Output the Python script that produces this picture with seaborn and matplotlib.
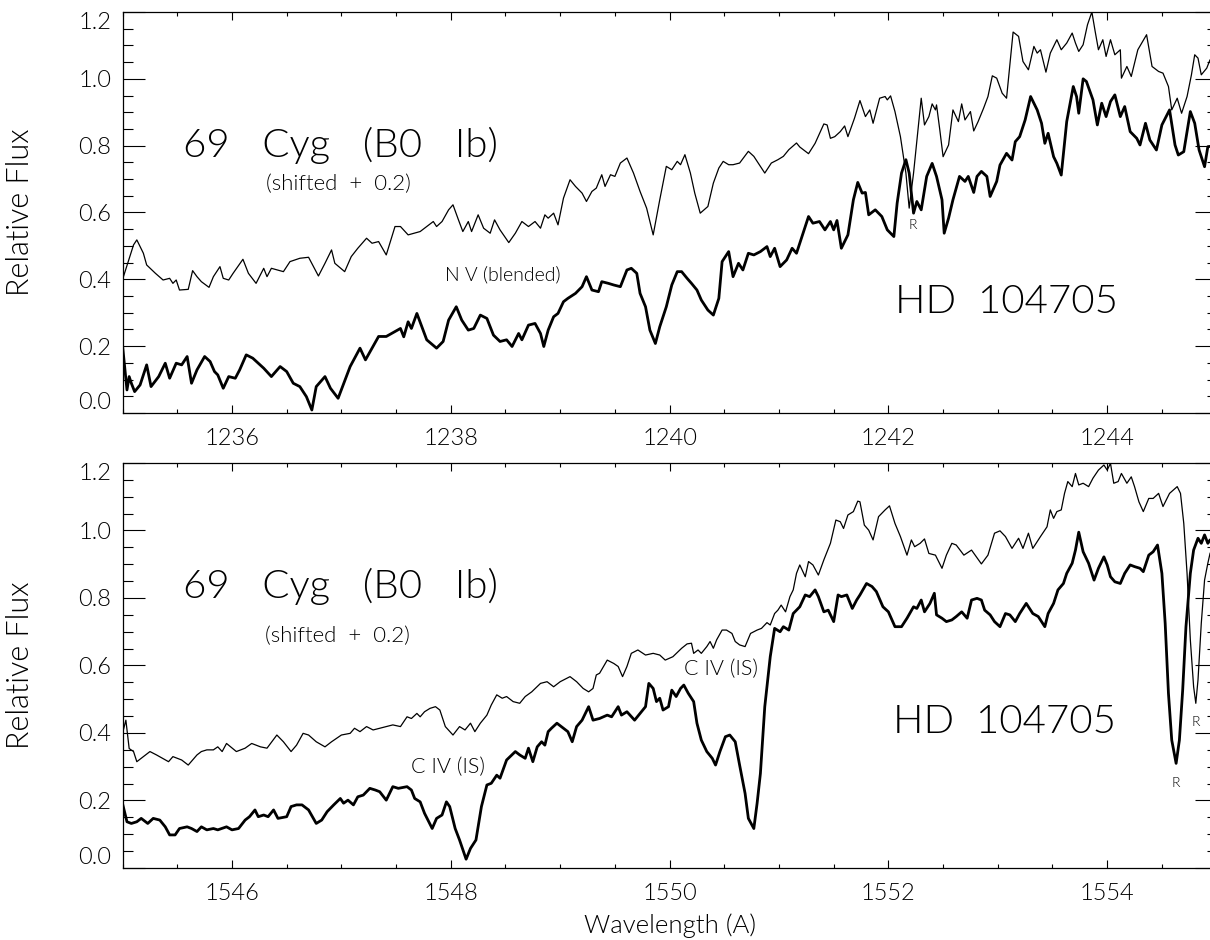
import matplotlib
matplotlib.use("Agg")
import matplotlib.pyplot as plt
from matplotlib.ticker import MultipleLocator
import seaborn as sns

# ---- N V region (upper panel) ----
nv_wave_cyg = [1235.00, 1235.10, 1235.13, 1235.19, 1235.22, 1235.30, 1235.37, 1235.43, 1235.46, 1235.49,
               1235.52, 1235.60, 1235.64, 1235.68, 1235.72, 1235.79, 1235.83, 1235.89, 1235.92, 1235.97,
               1236.01, 1236.10, 1236.15, 1236.22, 1236.29, 1236.32, 1236.36, 1236.47, 1236.53, 1236.62,
               1236.70, 1236.79, 1236.85, 1236.91, 1236.94, 1237.03, 1237.09, 1237.15, 1237.23, 1237.28,
               1237.34, 1237.41, 1237.49, 1237.54, 1237.61, 1237.72, 1237.84, 1237.87, 1237.92, 1237.98,
               1238.02, 1238.07, 1238.11, 1238.16, 1238.19, 1238.25, 1238.30, 1238.36, 1238.40, 1238.45,
               1238.53, 1238.59, 1238.65, 1238.71, 1238.77, 1238.82, 1238.86, 1238.89, 1238.94, 1238.98,
               1239.03, 1239.09, 1239.14, 1239.20, 1239.24, 1239.29, 1239.33, 1239.38, 1239.41, 1239.46,
               1239.50, 1239.55, 1239.61, 1239.67, 1239.73, 1239.79, 1239.85, 1239.91, 1239.97, 1240.02,
               1240.07, 1240.10, 1240.14, 1240.19, 1240.23, 1240.28, 1240.35, 1240.40, 1240.45, 1240.49,
               1240.54, 1240.58, 1240.64, 1240.72, 1240.77, 1240.81, 1240.87, 1240.93, 1240.99, 1241.04,
               1241.09, 1241.16, 1241.19, 1241.27, 1241.33, 1241.41, 1241.44, 1241.47, 1241.51, 1241.56,
               1241.60, 1241.63, 1241.69, 1241.74, 1241.79, 1241.83, 1241.86, 1241.92, 1241.97, 1241.99,
               1242.02, 1242.06, 1242.11, 1242.16, 1242.19, 1242.23, 1242.30, 1242.33, 1242.37, 1242.40,
               1242.43, 1242.44, 1242.47, 1242.50, 1242.55, 1242.59, 1242.64, 1242.67, 1242.70, 1242.75,
               1242.78, 1242.82, 1242.87, 1242.91, 1242.95, 1242.99, 1243.04, 1243.08, 1243.14, 1243.19,
               1243.23, 1243.28, 1243.33, 1243.36, 1243.39, 1243.44, 1243.48, 1243.54, 1243.58, 1243.63,
               1243.68, 1243.71, 1243.74, 1243.78, 1243.82, 1243.86, 1243.89, 1243.92, 1243.96, 1243.99,
               1244.03, 1244.07, 1244.12, 1244.13, 1244.18, 1244.22, 1244.28, 1244.36, 1244.41, 1244.47,
               1244.51, 1244.56, 1244.59, 1244.64, 1244.68, 1244.73, 1244.77, 1244.80, 1244.83, 1244.86,
               1244.91, 1244.94, 1245.00]
nv_flux_cyg = [0.400, 0.503, 0.518, 0.478, 0.443, 0.418, 0.398, 0.403, 0.388, 0.398,
               0.368, 0.370, 0.426, 0.408, 0.393, 0.376, 0.408, 0.438, 0.403, 0.398,
               0.418, 0.460, 0.418, 0.388, 0.433, 0.408, 0.433, 0.423, 0.453, 0.463,
               0.466, 0.410, 0.448, 0.488, 0.448, 0.423, 0.468, 0.493, 0.523, 0.508,
               0.513, 0.473, 0.558, 0.558, 0.533, 0.543, 0.573, 0.558, 0.573, 0.608,
               0.623, 0.578, 0.543, 0.573, 0.543, 0.593, 0.553, 0.538, 0.578, 0.548,
               0.510, 0.538, 0.573, 0.558, 0.573, 0.553, 0.593, 0.583, 0.598, 0.563,
               0.643, 0.698, 0.678, 0.658, 0.633, 0.663, 0.673, 0.713, 0.678, 0.713,
               0.708, 0.748, 0.763, 0.718, 0.663, 0.613, 0.533, 0.638, 0.738, 0.728,
               0.753, 0.743, 0.773, 0.718, 0.658, 0.598, 0.618, 0.688, 0.733, 0.753,
               0.743, 0.743, 0.748, 0.783, 0.768, 0.748, 0.718, 0.748, 0.758, 0.768,
               0.788, 0.808, 0.796, 0.776, 0.807, 0.865, 0.862, 0.822, 0.827, 0.842,
               0.859, 0.827, 0.882, 0.935, 0.887, 0.907, 0.867, 0.942, 0.947, 0.937,
               0.949, 0.902, 0.827, 0.718, 0.613, 0.718, 0.942, 0.862, 0.887, 0.925,
               0.907, 0.922, 0.847, 0.767, 0.802, 0.907, 0.872, 0.925, 0.877, 0.902,
               0.844, 0.872, 0.912, 0.947, 1.009, 1.002, 0.957, 0.942, 1.140, 1.127,
               1.052, 1.027, 1.097, 1.077, 1.087, 1.020, 1.077, 1.117, 1.087, 1.107,
               1.137, 1.107, 1.082, 1.102, 1.162, 1.200, 1.142, 1.087, 1.117, 1.067,
               1.117, 1.072, 1.087, 1.002, 1.037, 1.007, 1.087, 1.132, 1.037, 1.022,
               1.017, 0.977, 0.907, 0.942, 0.897, 0.947, 1.012, 1.072, 1.062, 1.012,
               1.032, 1.057, 1.060]

nv_wave_hd = [1235.00, 1235.04, 1235.06, 1235.08, 1235.11, 1235.16, 1235.22, 1235.26, 1235.33, 1235.39,
              1235.43, 1235.49, 1235.54, 1235.59, 1235.63, 1235.68, 1235.75, 1235.80, 1235.84, 1235.87,
              1235.92, 1235.97, 1236.03, 1236.07, 1236.13, 1236.19, 1236.29, 1236.36, 1236.44, 1236.50,
              1236.56, 1236.62, 1236.68, 1236.73, 1236.77, 1236.85, 1236.90, 1236.97, 1237.08, 1237.17,
              1237.22, 1237.34, 1237.41, 1237.49, 1237.54, 1237.57, 1237.61, 1237.64, 1237.69, 1237.73,
              1237.78, 1237.87, 1237.93, 1237.98, 1238.05, 1238.10, 1238.16, 1238.21, 1238.27, 1238.33,
              1238.39, 1238.45, 1238.51, 1238.56, 1238.62, 1238.65, 1238.71, 1238.77, 1238.82, 1238.85,
              1238.89, 1238.94, 1238.98, 1239.03, 1239.07, 1239.14, 1239.20, 1239.24, 1239.29, 1239.35,
              1239.38, 1239.44, 1239.49, 1239.55, 1239.61, 1239.65, 1239.70, 1239.73, 1239.78, 1239.82,
              1239.87, 1239.91, 1239.97, 1240.02, 1240.07, 1240.11, 1240.16, 1240.20, 1240.25, 1240.29,
              1240.35, 1240.40, 1240.45, 1240.48, 1240.54, 1240.58, 1240.63, 1240.67, 1240.72, 1240.77,
              1240.83, 1240.89, 1240.92, 1240.96, 1241.01, 1241.07, 1241.12, 1241.16, 1241.19, 1241.27,
              1241.31, 1241.37, 1241.42, 1241.47, 1241.50, 1241.53, 1241.57, 1241.63, 1241.68, 1241.72,
              1241.76, 1241.79, 1241.82, 1241.88, 1241.94, 1241.99, 1242.05, 1242.08, 1242.12, 1242.16,
              1242.19, 1242.23, 1242.26, 1242.30, 1242.35, 1242.40, 1242.44, 1242.49, 1242.51, 1242.55,
              1242.59, 1242.65, 1242.70, 1242.73, 1242.78, 1242.81, 1242.85, 1242.90, 1242.93, 1242.99,
              1243.02, 1243.08, 1243.13, 1243.16, 1243.20, 1243.25, 1243.30, 1243.36, 1243.40, 1243.43,
              1243.46, 1243.51, 1243.54, 1243.58, 1243.63, 1243.69, 1243.72, 1243.74, 1243.78, 1243.81,
              1243.87, 1243.91, 1243.95, 1243.99, 1244.03, 1244.07, 1244.12, 1244.16, 1244.21, 1244.27,
              1244.30, 1244.35, 1244.39, 1244.45, 1244.50, 1244.57, 1244.62, 1244.65, 1244.70, 1244.76,
              1244.80, 1244.84, 1244.89, 1244.92, 1245.00]
nv_flux_hd = [0.200, 0.069, 0.109, 0.089, 0.064, 0.084, 0.144, 0.079, 0.109, 0.149,
              0.104, 0.149, 0.144, 0.169, 0.089, 0.129, 0.169, 0.154, 0.124, 0.114,
              0.074, 0.109, 0.104, 0.129, 0.174, 0.164, 0.134, 0.109, 0.139, 0.124,
              0.089, 0.079, 0.049, 0.009, 0.079, 0.109, 0.074, 0.044, 0.139, 0.194,
              0.159, 0.229, 0.229, 0.244, 0.253, 0.228, 0.273, 0.253, 0.298, 0.263,
              0.219, 0.194, 0.214, 0.278, 0.318, 0.278, 0.248, 0.253, 0.293, 0.283,
              0.233, 0.214, 0.219, 0.199, 0.238, 0.219, 0.263, 0.268, 0.238, 0.199,
              0.248, 0.288, 0.298, 0.333, 0.343, 0.358, 0.378, 0.408, 0.368, 0.363,
              0.393, 0.388, 0.383, 0.378, 0.428, 0.433, 0.418, 0.358, 0.318, 0.248,
              0.208, 0.258, 0.318, 0.383, 0.423, 0.423, 0.403, 0.388, 0.368, 0.338,
              0.308, 0.293, 0.343, 0.453, 0.483, 0.408, 0.448, 0.428, 0.478, 0.473,
              0.483, 0.498, 0.468, 0.493, 0.438, 0.458, 0.493, 0.478, 0.508, 0.588,
              0.568, 0.573, 0.548, 0.573, 0.548, 0.576, 0.493, 0.533, 0.638, 0.690,
              0.658, 0.660, 0.593, 0.608, 0.588, 0.548, 0.528, 0.628, 0.718, 0.758,
              0.718, 0.598, 0.633, 0.608, 0.708, 0.747, 0.708, 0.638, 0.538, 0.583,
              0.638, 0.708, 0.693, 0.708, 0.660, 0.708, 0.723, 0.708, 0.648, 0.693,
              0.742, 0.777, 0.757, 0.812, 0.827, 0.877, 0.947, 0.907, 0.867, 0.807,
              0.837, 0.767, 0.747, 0.712, 0.872, 0.977, 0.947, 0.897, 1.000, 0.992,
              0.937, 0.862, 0.927, 0.887, 0.932, 0.952, 0.887, 0.917, 0.842, 0.822,
              0.802, 0.867, 0.817, 0.787, 0.862, 0.907, 0.802, 0.772, 0.782, 0.902,
              0.867, 0.787, 0.737, 0.797, 0.800]

# ---- C IV region (lower panel) ----
civ_wave_cyg = [1545.00, 1545.03, 1545.06, 1545.10, 1545.13, 1545.19, 1545.25, 1545.31, 1545.42, 1545.46,
                1545.54, 1545.60, 1545.68, 1545.72, 1545.77, 1545.83, 1545.87, 1545.91, 1545.95, 1546.04,
                1546.12, 1546.18, 1546.26, 1546.32, 1546.41, 1546.47, 1546.54, 1546.59, 1546.65, 1546.70,
                1546.77, 1546.85, 1546.91, 1547.00, 1547.08, 1547.12, 1547.17, 1547.23, 1547.29, 1547.35,
                1547.41, 1547.47, 1547.54, 1547.60, 1547.64, 1547.69, 1547.72, 1547.76, 1547.81, 1547.86,
                1547.90, 1547.95, 1548.02, 1548.08, 1548.13, 1548.18, 1548.22, 1548.27, 1548.33, 1548.37,
                1548.42, 1548.47, 1548.51, 1548.57, 1548.63, 1548.68, 1548.74, 1548.82, 1548.88, 1548.94,
                1549.00, 1549.09, 1549.15, 1549.21, 1549.26, 1549.30, 1549.33, 1549.36, 1549.43, 1549.49,
                1549.53, 1549.57, 1549.61, 1549.65, 1549.71, 1549.78, 1549.85, 1549.91, 1549.96, 1550.03,
                1550.11, 1550.16, 1550.20, 1550.22, 1550.26, 1550.29, 1550.34, 1550.37, 1550.40, 1550.43,
                1550.48, 1550.52, 1550.57, 1550.60, 1550.64, 1550.69, 1550.74, 1550.80, 1550.84, 1550.89,
                1550.92, 1550.96, 1550.99, 1551.02, 1551.06, 1551.10, 1551.13, 1551.16, 1551.19, 1551.24,
                1551.27, 1551.31, 1551.36, 1551.41, 1551.47, 1551.52, 1551.56, 1551.59, 1551.63, 1551.68,
                1551.72, 1551.74, 1551.78, 1551.82, 1551.86, 1551.91, 1551.97, 1552.01, 1552.06, 1552.11,
                1552.17, 1552.21, 1552.24, 1552.29, 1552.33, 1552.37, 1552.43, 1552.49, 1552.53, 1552.58,
                1552.62, 1552.69, 1552.76, 1552.85, 1552.91, 1552.97, 1553.02, 1553.07, 1553.13, 1553.19,
                1553.23, 1553.28, 1553.32, 1553.39, 1553.45, 1553.48, 1553.51, 1553.54, 1553.58, 1553.61,
                1553.64, 1553.68, 1553.71, 1553.74, 1553.78, 1553.83, 1553.87, 1553.92, 1553.97, 1554.00,
                1554.03, 1554.06, 1554.10, 1554.13, 1554.18, 1554.22, 1554.25, 1554.29, 1554.33, 1554.38,
                1554.42, 1554.47, 1554.51, 1554.57, 1554.64, 1554.67, 1554.70, 1554.73, 1554.76, 1554.79,
                1554.81, 1554.83, 1554.86, 1554.89, 1554.92, 1554.94, 1555.00]
civ_flux_cyg = [0.400, 0.438, 0.354, 0.345, 0.315, 0.330, 0.345, 0.335, 0.315, 0.330,
                0.320, 0.305, 0.335, 0.345, 0.350, 0.350, 0.359, 0.345, 0.369, 0.345,
                0.355, 0.369, 0.359, 0.355, 0.394, 0.374, 0.345, 0.364, 0.399, 0.394,
                0.374, 0.359, 0.374, 0.394, 0.399, 0.414, 0.404, 0.419, 0.409, 0.414,
                0.419, 0.424, 0.419, 0.448, 0.443, 0.458, 0.448, 0.463, 0.473, 0.478,
                0.468, 0.419, 0.394, 0.419, 0.409, 0.429, 0.404, 0.429, 0.453, 0.483,
                0.513, 0.503, 0.508, 0.493, 0.488, 0.508, 0.522, 0.547, 0.552, 0.537,
                0.552, 0.567, 0.552, 0.532, 0.522, 0.532, 0.572, 0.577, 0.616, 0.606,
                0.597, 0.567, 0.597, 0.636, 0.646, 0.631, 0.636, 0.631, 0.616, 0.626,
                0.651, 0.664, 0.666, 0.636, 0.646, 0.636, 0.656, 0.671, 0.651, 0.676,
                0.705, 0.705, 0.695, 0.671, 0.661, 0.656, 0.695, 0.705, 0.710, 0.727,
                0.720, 0.754, 0.764, 0.779, 0.759, 0.804, 0.824, 0.873, 0.898, 0.863,
                0.908, 0.898, 0.868, 0.913, 0.962, 1.031, 1.026, 1.006, 1.046, 1.056,
                1.087, 1.085, 1.016, 1.001, 0.972, 1.041, 1.061, 1.073, 1.021, 0.982,
                0.927, 0.972, 0.952, 0.962, 0.975, 0.932, 0.927, 0.888, 0.927, 0.962,
                0.957, 0.927, 0.942, 0.901, 0.927, 0.992, 0.999, 0.982, 0.947, 0.977,
                0.947, 0.992, 0.947, 0.982, 1.011, 1.061, 1.036, 1.056, 1.061, 1.110,
                1.145, 1.130, 1.169, 1.135, 1.140, 1.130, 1.155, 1.179, 1.194, 1.179,
                1.199, 1.140, 1.145, 1.169, 1.140, 1.159, 1.130, 1.085, 1.056, 1.095,
                1.095, 1.110, 1.071, 1.110, 1.130, 1.110, 1.021, 0.873, 0.676, 0.537,
                0.488, 0.557, 0.725, 0.853, 0.903, 0.932, 0.970]

civ_wave_hd = [1545.00, 1545.04, 1545.08, 1545.13, 1545.17, 1545.23, 1545.28, 1545.34, 1545.39, 1545.43,
               1545.48, 1545.52, 1545.59, 1545.63, 1545.68, 1545.72, 1545.77, 1545.83, 1545.87, 1545.95,
               1546.00, 1546.06, 1546.12, 1546.16, 1546.21, 1546.24, 1546.29, 1546.33, 1546.38, 1546.42,
               1546.50, 1546.54, 1546.59, 1546.64, 1546.70, 1546.77, 1546.82, 1546.87, 1546.93, 1546.99,
               1547.02, 1547.06, 1547.11, 1547.15, 1547.20, 1547.26, 1547.31, 1547.35, 1547.41, 1547.47,
               1547.52, 1547.60, 1547.64, 1547.67, 1547.72, 1547.76, 1547.83, 1547.87, 1547.92, 1547.96,
               1547.99, 1548.04, 1548.08, 1548.14, 1548.18, 1548.23, 1548.28, 1548.33, 1548.37, 1548.42,
               1548.45, 1548.51, 1548.59, 1548.63, 1548.68, 1548.71, 1548.75, 1548.79, 1548.83, 1548.86,
               1548.89, 1548.92, 1548.97, 1549.03, 1549.07, 1549.11, 1549.15, 1549.20, 1549.23, 1549.26,
               1549.30, 1549.36, 1549.43, 1549.47, 1549.50, 1549.53, 1549.56, 1549.61, 1549.68, 1549.73,
               1549.78, 1549.81, 1549.85, 1549.88, 1549.91, 1549.94, 1549.99, 1550.02, 1550.06, 1550.10,
               1550.13, 1550.17, 1550.22, 1550.25, 1550.29, 1550.34, 1550.39, 1550.42, 1550.46, 1550.51,
               1550.55, 1550.60, 1550.64, 1550.69, 1550.72, 1550.77, 1550.80, 1550.83, 1550.87, 1550.92,
               1550.96, 1551.01, 1551.04, 1551.09, 1551.13, 1551.19, 1551.24, 1551.28, 1551.33, 1551.36,
               1551.41, 1551.45, 1551.50, 1551.54, 1551.57, 1551.62, 1551.67, 1551.71, 1551.74, 1551.80,
               1551.85, 1551.89, 1551.95, 1552.00, 1552.06, 1552.12, 1552.17, 1552.23, 1552.26, 1552.30,
               1552.33, 1552.38, 1552.42, 1552.44, 1552.49, 1552.53, 1552.58, 1552.62, 1552.67, 1552.72,
               1552.76, 1552.81, 1552.85, 1552.88, 1552.93, 1552.97, 1553.02, 1553.07, 1553.11, 1553.16,
               1553.20, 1553.26, 1553.32, 1553.37, 1553.40, 1553.43, 1553.46, 1553.51, 1553.55, 1553.60,
               1553.63, 1553.68, 1553.71, 1553.74, 1553.78, 1553.83, 1553.88, 1553.92, 1553.97, 1554.00,
               1554.03, 1554.07, 1554.12, 1554.16, 1554.21, 1554.25, 1554.30, 1554.33, 1554.38, 1554.42,
               1554.46, 1554.50, 1554.53, 1554.56, 1554.59, 1554.63, 1554.66, 1554.69, 1554.72, 1554.76,
               1554.79, 1554.83, 1554.86, 1554.89, 1554.92, 1554.94, 1555.00]
civ_flux_hd = [0.190, 0.137, 0.132, 0.137, 0.147, 0.132, 0.147, 0.142, 0.122, 0.098,
               0.098, 0.117, 0.122, 0.117, 0.108, 0.122, 0.113, 0.117, 0.113, 0.122,
               0.113, 0.117, 0.142, 0.152, 0.172, 0.152, 0.157, 0.152, 0.172, 0.147,
               0.152, 0.182, 0.187, 0.187, 0.172, 0.132, 0.142, 0.167, 0.187, 0.206,
               0.192, 0.201, 0.187, 0.211, 0.216, 0.236, 0.231, 0.226, 0.201, 0.241,
               0.236, 0.241, 0.231, 0.206, 0.196, 0.162, 0.117, 0.147, 0.157, 0.196,
               0.182, 0.117, 0.083, 0.026, 0.058, 0.083, 0.182, 0.246, 0.251, 0.275,
               0.266, 0.320, 0.345, 0.335, 0.325, 0.355, 0.315, 0.359, 0.374, 0.364,
               0.404, 0.414, 0.429, 0.414, 0.404, 0.374, 0.419, 0.438, 0.458, 0.478,
               0.438, 0.443, 0.453, 0.448, 0.463, 0.478, 0.453, 0.463, 0.438, 0.458,
               0.478, 0.547, 0.532, 0.493, 0.503, 0.468, 0.478, 0.527, 0.508, 0.532,
               0.542, 0.518, 0.493, 0.429, 0.379, 0.345, 0.325, 0.305, 0.345, 0.389,
               0.394, 0.374, 0.305, 0.221, 0.147, 0.117, 0.192, 0.280, 0.478, 0.626,
               0.710, 0.700, 0.715, 0.705, 0.754, 0.774, 0.809, 0.804, 0.824, 0.804,
               0.759, 0.764, 0.730, 0.809, 0.804, 0.809, 0.769, 0.794, 0.809, 0.843,
               0.834, 0.819, 0.774, 0.759, 0.715, 0.715, 0.740, 0.774, 0.769, 0.794,
               0.759, 0.784, 0.814, 0.750, 0.740, 0.730, 0.735, 0.745, 0.759, 0.740,
               0.794, 0.799, 0.794, 0.764, 0.750, 0.730, 0.715, 0.754, 0.750, 0.730,
               0.754, 0.784, 0.754, 0.745, 0.730, 0.715, 0.754, 0.784, 0.824, 0.843,
               0.873, 0.903, 0.942, 0.995, 0.937, 0.903, 0.853, 0.888, 0.922, 0.898,
               0.863, 0.848, 0.843, 0.873, 0.898, 0.893, 0.888, 0.878, 0.927, 0.937,
               0.957, 0.873, 0.725, 0.517, 0.379, 0.310, 0.379, 0.527, 0.715, 0.873,
               0.942, 0.977, 0.962, 0.987, 0.962, 0.972, 0.950]

sns.set_style("ticks")
plt.rcParams['font.family'] = ['Lato', 'DejaVu Sans']
plt.rcParams['font.weight'] = 'normal'
plt.rcParams['text.color'] = 'black'
plt.rcParams['axes.labelcolor'] = 'black'
plt.rcParams['xtick.color'] = 'black'
plt.rcParams['ytick.color'] = 'black'

fig = plt.figure(figsize=(12.1, 9.4), dpi=100)
ax_top = fig.add_axes([0.10132, 0.56064, 0.90413, 0.42660])
ax_bot = fig.add_axes([0.10132, 0.07660, 0.90413, 0.43085])


def style_axis(ax, x0):
    ax.set_xlim(x0, x0 + 10)
    ax.set_ylim(0, 1.2)
    ax.xaxis.set_major_locator(MultipleLocator(2))
    ax.xaxis.set_minor_locator(MultipleLocator(0.5))
    ax.yaxis.set_major_locator(MultipleLocator(0.2))
    ax.yaxis.set_minor_locator(MultipleLocator(0.05))
    ax.tick_params(which='both', direction='in', top=True, right=True, width=0.8)
    ax.tick_params(axis='x', which='major', length=6, pad=11, labelsize=17)
    ax.tick_params(axis='x', which='minor', length=3)
    ax.tick_params(axis='y', which='major', length=16, pad=8, labelsize=17)
    ax.tick_params(axis='y', which='minor', length=7)
    ax.set_yticks([0.0, 0.2, 0.4, 0.6, 0.8, 1.0, 1.2])
    ax.set_yticklabels(['0.0', '0.2', '0.4', '0.6', '0.8', '1.0', '1.2'])
    labels = ax.get_yticklabels()
    labels[0].set_va('bottom')
    labels[-1].set_va('top')
    ax.set_xticks(list(range(int(x0) + 1, int(x0) + 10, 2)))
    for lab in ax.get_xticklabels() + ax.get_yticklabels():
        lab.set_fontweight(300)
    for s in ax.spines.values():
        s.set_linewidth(0.9)
        s.set_color('black')
    ax.set_ylabel('Relative Flux', fontsize=22, fontweight=300)
    ax.yaxis.set_label_coords(-0.080, 0.5)


sns.lineplot(x=nv_wave_cyg, y=nv_flux_cyg, ax=ax_top, color='black', lw=0.9, estimator=None, sort=False)
sns.lineplot(x=nv_wave_hd, y=nv_flux_hd, ax=ax_top, color='black', lw=2.0, estimator=None, sort=False)
sns.lineplot(x=civ_wave_cyg, y=civ_flux_cyg, ax=ax_bot, color='black', lw=0.9, estimator=None, sort=False)
sns.lineplot(x=civ_wave_hd, y=civ_flux_hd, ax=ax_bot, color='black', lw=2.0, estimator=None, sort=False)

style_axis(ax_top, 1235)
style_axis(ax_bot, 1545)
ax_bot.set_xlabel('Wavelength (A)', fontsize=18.5, fontweight=300)
ax_bot.xaxis.set_label_coords(0.5, -0.113)

big = dict(fontsize=29, fontweight=300, va='baseline')
mid = dict(fontsize=16, fontweight=300, va='baseline', ha='center')
small = dict(fontsize=14, fontweight=300, va='baseline', ha='center')
tiny = dict(fontsize=10, fontweight=300, va='baseline', ha='center')

# annotations, upper panel
ax_top.text(1235.55, 0.766, '69   Cyg   (B0   Ib)', ha='left', **big)
ax_top.text(1236.97, 0.668, '(shifted  +  0.2)', **mid)
ax_top.text(1238.48, 0.398, 'N V (blended)', **small)
ax_top.text(1242.22, 0.551, 'R', **tiny)
ax_top.text(1243.08, 0.299, 'HD  104705', ha='center', **big)

# annotations, lower panel
ax_bot.text(1545.55, 0.800, '69   Cyg   (B0   Ib)', ha='left', **big)
ax_bot.text(1546.96, 0.670, '(shifted  +  0.2)', **mid)
ax_bot.text(1547.97, 0.281, 'C IV (IS)', fontsize=15.5, fontweight=300, va='baseline', ha='center')
ax_bot.text(1550.47, 0.572, 'C IV (IS)', fontsize=15.5, fontweight=300, va='baseline', ha='center')
ax_bot.text(1554.63, 0.241, 'R', **tiny)
ax_bot.text(1554.81, 0.421, 'R', **tiny)
ax_bot.text(1553.06, 0.400, 'HD  104705', ha='center', **big)

fig.savefig('out.png', dpi=100)
